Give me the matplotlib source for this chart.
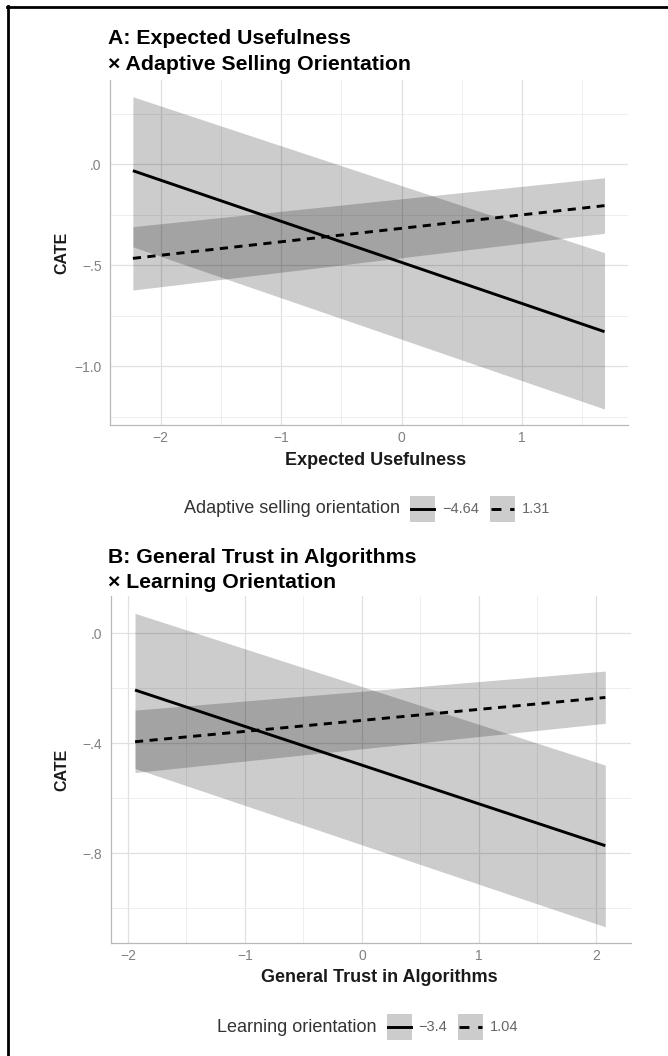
import matplotlib
matplotlib.use("Agg")
import matplotlib.pyplot as plt
from matplotlib.lines import Line2D
from matplotlib.patches import Rectangle
from matplotlib.ticker import FuncFormatter, MultipleLocator

plt.rcParams['font.family'] = ['Liberation Sans', 'DejaVu Sans']

# panel A: expected usefulness x adaptive selling orientation
eu_x = [-2.23, 1.685]
aso_levels = ['\u22124.64', '1.31']
aso_low_fit = [-0.033, -0.83]
aso_low_lo = [-0.41, -1.213]
aso_low_hi = [0.333, -0.439]
aso_high_fit = [-0.467, -0.206]
aso_high_lo = [-0.624, -0.343]
aso_high_hi = [-0.31, -0.068]

# panel B: general trust in algorithms x learning orientation
gt_x = [-1.94, 2.08]
lo_levels = ['\u22123.4', '1.04']
lo_low_fit = [-0.206, -0.772]
lo_low_lo = [-0.491, -1.067]
lo_low_hi = [0.073, -0.479]
lo_high_fit = [-0.394, -0.233]
lo_high_lo = [-0.506, -0.327]
lo_high_hi = [-0.279, -0.137]

W, H = 668, 1056
fig = plt.figure(figsize=(W / 100, H / 100), dpi=100)
fig.patch.set_facecolor('white')

LW = 2.1
DASH = (0, (2.8, 2.2))
BAND = dict(color='black', alpha=0.2, linewidth=0)


def fx(px):
    return px / W


def fy(py):
    return 1 - py / H


def cate_fmt(v, pos):
    s = f"{v:.1f}"
    if abs(v) < 1:
        s = s.replace("0.", ".")
    return s.replace("-", "\u2212")


def setup_axes(rect, xlim, ylim, ymaj, xlabel, xlab_pos):
    ax = fig.add_axes(rect)
    ax.set_xlim(*xlim)
    ax.set_ylim(*ylim)
    ax.xaxis.set_major_locator(MultipleLocator(1))
    ax.xaxis.set_minor_locator(MultipleLocator(0.5))
    ax.yaxis.set_major_locator(MultipleLocator(ymaj))
    ax.yaxis.set_minor_locator(MultipleLocator(ymaj / 2))
    ax.yaxis.set_major_formatter(FuncFormatter(cate_fmt))
    ax.grid(which='major', color='#e0e0e0', linewidth=0.9)
    ax.grid(which='minor', color='#ebebeb', linewidth=0.6)
    ax.set_axisbelow(True)
    for side in ['top', 'right']:
        ax.spines[side].set_visible(False)
    for side in ['left', 'bottom']:
        ax.spines[side].set_color('#b8b8b8')
        ax.spines[side].set_linewidth(0.9)
    ax.tick_params(which='both', length=0, labelsize=10, labelcolor='#808080')
    ax.tick_params(axis='y', pad=6)
    ax.tick_params(axis='x', pad=4)
    ax.set_xlabel(xlabel, fontsize=13, fontweight='bold', color='#1a1a1a')
    ax.xaxis.label.set_va('baseline')
    ax.xaxis.set_label_coords(*xlab_pos)
    ax.set_ylabel('CATE', fontsize=11.5, fontweight='bold', color='#1a1a1a')
    ax.yaxis.label.set_va('center')
    return ax


def draw_panel(ax, x, low, high):
    fit, lo, hi = low
    ax.fill_between(x, lo, hi, **BAND)
    fit2, lo2, hi2 = high
    ax.fill_between(x, lo2, hi2, **BAND)
    ax.plot(x, fit, color='black', linewidth=LW, solid_capstyle='butt')
    ax.plot(x, fit2, color='black', linewidth=LW, linestyle=DASH)


def draw_legend(title, labels, cx, cy):
    r = fig.canvas.get_renderer()
    kw, kh = 25, 26
    items = []
    t = fig.text(0, fy(cy), title, fontsize=13, color='#333333', va='center')
    items.append(('text', t, t.get_window_extent(r).width))
    for i, lab in enumerate(labels):
        items.append(('key', i, kw))
        lt = fig.text(0, fy(cy), lab, fontsize=10.5, color='#666666', va='center')
        items.append(('text', lt, lt.get_window_extent(r).width))
    gaps = [10, 7, 11, 7]
    total = sum(w for _, _, w in items) + sum(gaps)
    x = cx - total / 2
    for n, (kind, obj, w) in enumerate(items):
        if kind == 'text':
            obj.set_x(fx(x))
        else:
            fig.add_artist(Rectangle((fx(x), fy(cy + kh / 2)), kw / W, kh / H,
                                     transform=fig.transFigure, facecolor='black',
                                     alpha=0.2, linewidth=0))
            style = '-' if obj == 0 else (0, (3.4, 3.0))
            fig.add_artist(Line2D([fx(x + 1), fx(x + kw - 1)], [fy(cy), fy(cy)],
                                  transform=fig.transFigure, color='black',
                                  linewidth=LW, linestyle=style))
        x += w
        if n < len(gaps):
            x += gaps[n]


def panel_title(x, y1, y2, line1, line2):
    fig.text(fx(x), fy(y1), line1, fontsize=15.3, fontweight='bold', va='baseline')
    fig.text(fx(x), fy(y2), line2, fontsize=15.3, fontweight='bold', va='baseline')


# panel A
axA = setup_axes([fx(110), fy(425), 518 / W, 345 / H], (-2.42, 1.88), (-1.292, 0.416),
                 0.5, 'Expected Usefulness', (266 / 518, -40 / 345))
axA.yaxis.set_label_coords(-48 / 518, 0.5)
draw_panel(axA, eu_x, (aso_low_fit, aso_low_lo, aso_low_hi),
           (aso_high_fit, aso_high_lo, aso_high_hi))
panel_title(108, 44, 70, 'A: Expected Usefulness', '\u00d7 Adaptive Selling Orientation')
draw_legend('Adaptive selling orientation', aso_levels, 367, 509)

# panel B
axB = setup_axes([fx(110.8), fy(943.3), 519.8 / W, 347.3 / H], (-2.147, 2.296),
                 (-1.127, 0.136), 0.4, 'General Trust in Algorithms',
                 (269 / 519.8, -38.4 / 347.3))
axB.yaxis.set_label_coords(-48.8 / 519.8, 0.5)
draw_panel(axB, gt_x, (lo_low_fit, lo_low_lo, lo_low_hi),
           (lo_high_fit, lo_high_lo, lo_high_hi))
panel_title(108, 563, 588, 'B: General Trust in Algorithms', '\u00d7 Learning Orientation')
draw_legend('Learning orientation', lo_levels, 368, 1027)

# outer frame on the top and left edges
fig.add_artist(Line2D([fx(6.5), 1], [fy(7), fy(7)], transform=fig.transFigure,
                      color='black', linewidth=2.0))
fig.add_artist(Line2D([fx(7.5), fx(7.5)], [fy(6), 0], transform=fig.transFigure,
                      color='black', linewidth=2.0))

fig.savefig('out.png', dpi=100)
